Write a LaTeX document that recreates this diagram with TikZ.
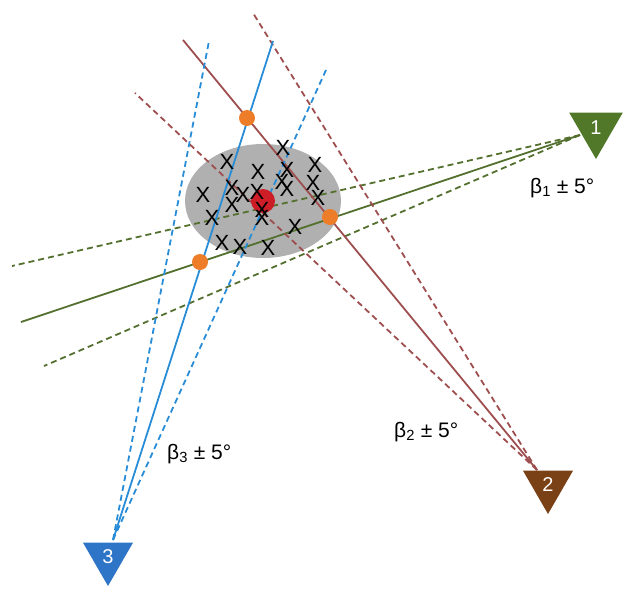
\documentclass[tikz,border=0pt]{standalone}
\usepackage{fontspec}
\setmainfont{Liberation Sans}
\usetikzlibrary{shapes.geometric}
\definecolor{gline}{RGB}{84,112,46}
\definecolor{gtri}{RGB}{80,120,40}
\definecolor{bline}{RGB}{158,78,78}
\definecolor{btri}{RGB}{122,64,22}
\definecolor{uline}{RGB}{40,140,215}
\definecolor{utri}{RGB}{46,117,200}
\definecolor{orng}{RGB}{237,125,40}
\definecolor{rdot}{RGB}{205,30,40}
\definecolor{ell}{RGB}{176,176,176}
\tikzset{
  solidln/.style={line width=1.8pt},
  dashln/.style={line width=1.8pt, dash pattern=on 6pt off 4pt},
  tri/.style={regular polygon, regular polygon sides=3, shape border rotate=180, inner sep=0pt, text=white, font=\fontsize{20}{20}\selectfont},
  xmark/.style={inner sep=0pt, font=\fontsize{22}{22}\selectfont},
  odot/.style={circle, fill=orng, minimum size=16pt, inner sep=0pt},
  lbl/.style={inner sep=0pt, anchor=base west, font=\fontsize{21}{21}\selectfont}
}
\begin{document}
\begin{tikzpicture}[x=1pt,y=-1pt]
\useasboundingbox (0,0) rectangle (624,592);
% ellipse
\node (cloud) [ellipse, fill=ell, minimum width=156pt, minimum height=114pt, inner sep=0pt] at (263,201) {};
% origins and line ends
\coordinate (o1) at (580,135);
\coordinate (o2) at (537,470);
\coordinate (o3) at (113,540);
\coordinate (g0) at (21,322);
\coordinate (ga) at (12,266);
\coordinate (gb) at (44,366);
\coordinate (b0) at (183,40);
\coordinate (ba) at (135,93);
\coordinate (bb) at (253,13);
\coordinate (u0) at (273,41);
\coordinate (ua) at (209,41);
\coordinate (ub) at (326,70);
% green lines
\draw[solidln, gline] (o1) -- (g0);
\draw[dashln, gline] (o1) -- (ga);
\draw[dashln, gline] (o1) -- (gb);
% brown lines
\draw[solidln, bline] (o2) -- (b0);
\draw[dashln, bline] (o2) -- (ba);
\draw[dashln, bline] (o2) -- (bb);
% blue lines
\draw[solidln, uline] (o3) -- (u0);
\draw[dashln, uline] (o3) -- (ua);
\draw[dashln, uline] (o3) -- (ub);
% red dot
\node (center) [circle, fill=rdot, minimum size=24pt, inner sep=0pt] at (263,201) {};
% x marks
\foreach \px/\py [count=\i] in {283/148,227/162,258/172,315/165,287/170,282/182,287/189,313/183,318/198,232/188,243/195,257/192,203/195,232/205,212/218,262/210,262/218,295/227,222/243,240/247,268/248}
  \node (x\i) [xmark] at (\px,\py) {X};
% orange dots
\node (p1) [odot] at (247,118) {};
\node (p2) [odot] at (330,217) {};
\node (p3) [odot] at (200,262) {};
% triangles
\node (t1) [tri, fill=gtri, minimum size=62pt] at (596,128) {1};
\node (t2) [tri, fill=btri, minimum size=58pt] at (548,485) {2};
\node (t3) [tri, fill=utri, minimum size=58pt] at (108,557) {3};
% labels
\node (l1) [lbl] at (530,193) {β\textsubscript{1} ± 5°};
\node (l2) [lbl] at (394,437) {β\textsubscript{2} ± 5°};
\node (l3) [lbl] at (167,459) {β\textsubscript{3} ± 5°};
\end{tikzpicture}
\end{document}
